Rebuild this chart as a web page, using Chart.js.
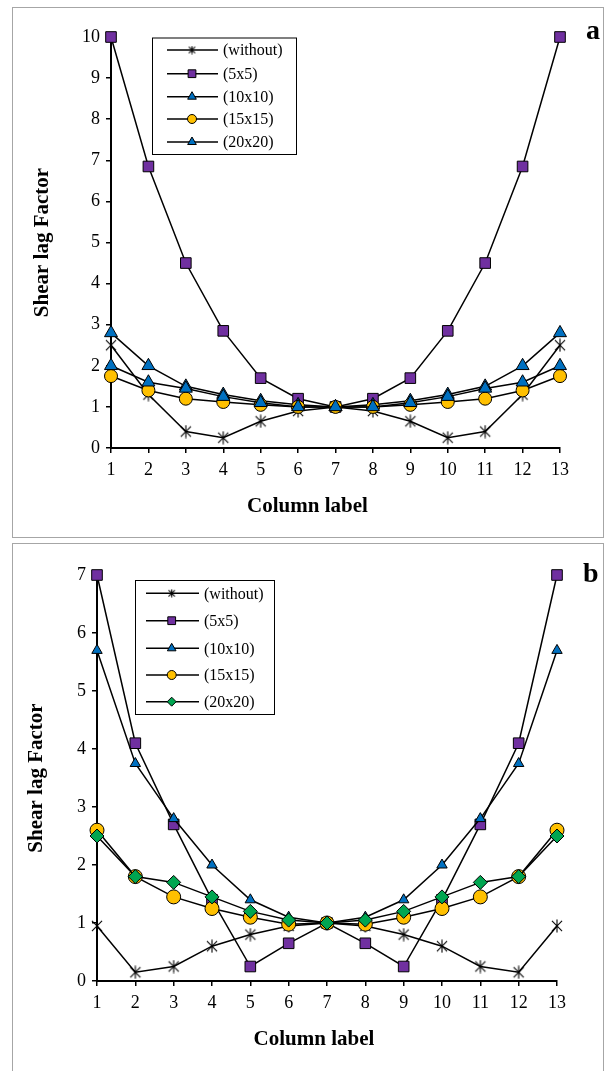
<!DOCTYPE html>
<html><head><meta charset="utf-8">
<script src="https://cdn.jsdelivr.net/npm/chart.js@4.4.1/dist/chart.umd.min.js"></script>
<style>
html,body{margin:0;padding:0;background:#fff}
body{width:612px;height:1071px;overflow:hidden;position:relative;font-family:"Liberation Serif",serif}
.frame{position:absolute;border:1px solid #a6a6a6;box-sizing:border-box}
.wrap{position:absolute;width:590px;height:528px}
</style></head><body>
<div class="frame" style="left:12px;top:7px;width:592px;height:531px"></div>
<div class="frame" style="left:12px;top:543px;width:592px;height:540px"></div>
<div class="wrap" style="left:13px;top:8px"><canvas id="ca" width="590" height="528"></canvas></div>
<div class="wrap" style="left:13px;top:544px"><canvas id="cb" width="590" height="528"></canvas></div>
<script>
// ---- data ----
const columnLabels = ['1','2','3','4','5','6','7','8','9','10','11','12','13'];
const seriesNames = ['(without)','(5x5)','(10x10)','(15x15)','(20x20)'];
const yAxisTitle = 'Shear lag Factor';
const xAxisTitle = 'Column label';

// panel a
const aWithout = [2.5,1.3,0.4,0.25,0.65,0.9,1.0,0.9,0.65,0.25,0.4,1.3,2.5];
const a5x5    = [10,6.85,4.5,2.85,1.7,1.2,1.0,1.2,1.7,2.85,4.5,6.85,10];
const a10x10  = [2.8,2.0,1.5,1.3,1.15,1.05,1.0,1.05,1.15,1.3,1.5,2.0,2.8];
const a15x15  = [1.75,1.4,1.2,1.12,1.05,1.0,1.0,1.0,1.05,1.12,1.2,1.4,1.75];
const a20x20  = [2.0,1.6,1.45,1.25,1.1,1.0,1.0,1.0,1.1,1.25,1.45,1.6,2.0];
const aYMax = 10;

// panel b
const bWithout = [0.95,0.15,0.25,0.6,0.8,0.95,1.0,0.95,0.8,0.6,0.25,0.15,0.95];
const b5x5    = [7,4.1,2.7,1.4,0.25,0.65,1.0,0.65,0.25,1.4,2.7,4.1,7];
const b10x10  = [5.7,3.75,2.8,2.0,1.4,1.1,1.0,1.1,1.4,2.0,2.8,3.75,5.7];
const b15x15  = [2.6,1.8,1.45,1.25,1.1,0.98,1.0,0.98,1.1,1.25,1.45,1.8,2.6];
const b20x20  = [2.5,1.8,1.7,1.45,1.2,1.05,1.0,1.05,1.2,1.45,1.7,1.8,2.5];
const bYMax = 7;

// ---- styles ----
const PURPLE='#7030A0', BLUE='#0070C0', YELLOW='#FFC000', GREEN='#00A651';
const FONT='"Liberation Serif", "Times New Roman", serif';

function asterisk(size){
  const c=document.createElement('canvas'); c.width=c.height=size;
  const g=c.getContext('2d'); g.strokeStyle='#000'; g.lineWidth=1.1;
  const m=size/2, r=size/2-0.5, d=r*0.78;
  g.beginPath();
  g.moveTo(m-d,m-d); g.lineTo(m+d,m+d);
  g.moveTo(m+d,m-d); g.lineTo(m-d,m+d);
  g.moveTo(m,m-r); g.lineTo(m,m+r);
  g.stroke();
  return c;
}

function drawMarker(ctx, style, x, y, r, fill){
  ctx.save();
  if (style instanceof HTMLCanvasElement){ ctx.drawImage(style, x-style.width/2, y-style.height/2); ctx.restore(); return; }
  ctx.fillStyle=fill; ctx.strokeStyle='#000'; ctx.lineWidth=1; ctx.beginPath();
  if(style==='rect'){const s=r*Math.SQRT1_2; ctx.rect(x-s,y-s,2*s,2*s);}
  else if(style==='triangle'){ctx.moveTo(x,y-r); ctx.lineTo(x+r*0.866,y+r*0.5); ctx.lineTo(x-r*0.866,y+r*0.5); ctx.closePath();}
  else if(style==='circle'){ctx.arc(x,y,r,0,Math.PI*2);}
  else if(style==='rectRot'){ctx.moveTo(x-r,y); ctx.lineTo(x,y-r); ctx.lineTo(x+r,y); ctx.lineTo(x,y+r); ctx.closePath();}
  ctx.fill(); ctx.stroke(); ctx.restore();
}

const decoPlugin = {
  id:'deco',
  afterDraw(chart, args, o){
    const ctx=chart.ctx;
    ctx.save();
    ctx.fillStyle='#000'; ctx.font='bold 21px '+FONT; ctx.textAlign='center'; ctx.textBaseline='middle';
    ctx.fillText(o.xTitle, o.xTitleX, o.xTitleY);
    ctx.font='bold 28px '+FONT;
    ctx.fillText(o.letter, o.letterX, o.letterY);
    const L=o.legend;
    ctx.fillStyle='#fff'; ctx.fillRect(L.x,L.y,L.w,L.h);
    ctx.strokeStyle='#000'; ctx.lineWidth=1; ctx.strokeRect(L.x+0.5,L.y+0.5,L.w,L.h);
    ctx.font='16px '+FONT; ctx.textAlign='left';
    chart.data.datasets.forEach((ds,i)=>{
      const y=L.rows[i];
      ctx.strokeStyle='#000'; ctx.lineWidth=1.5;
      ctx.beginPath(); ctx.moveTo(L.x1,y); ctx.lineTo(L.x2,y); ctx.stroke();
      drawMarker(ctx, ds.legendStyle || ds.pointStyle, L.mx, y, ds.legendRadius, ds.pointBackgroundColor);
      ctx.fillStyle='#000';
      ctx.fillText(ds.label, L.tx, y+1);
    });
    ctx.restore();
  }
};

function makeChart(id, values, styles, yMax, geo, deco){
  const datasets = values.map((v,i)=>({
    label: seriesNames[i],
    data: v,
    borderColor:'#000',
    borderWidth:1.5,
    pointStyle: styles[i].style,
    legendStyle: styles[i].legendStyle,
    legendRadius: styles[i].lr,
    pointRadius: styles[i].r,
    pointBackgroundColor: styles[i].fill,
    pointBorderColor:'#000',
    pointBorderWidth:1,
    tension:0,
    clip:false,
    order: values.length-1-i
  }));
  return new Chart(document.getElementById(id), {
    type:'line',
    data:{labels:columnLabels, datasets},
    options:{
      responsive:false, animation:false, devicePixelRatio:1,
      layout:{padding:{top:geo.T,right:geo.R,left:0,bottom:0}},
      plugins:{legend:{display:false}, tooltip:{enabled:false}, deco},
      scales:{
        x:{
          type:'category', offset:false,
          grid:{display:true, drawOnChartArea:false, offset:false, tickLength:5, color:'#000', lineWidth:1.5},
          border:{display:true, color:'#000', width:2},
          ticks:{color:'#000', font:{family:FONT, size:18}, padding:6, maxRotation:0, autoSkip:false},
          afterFit(s){ s.height = geo.H; }
        },
        y:{
          min:0, max:yMax,
          grid:{display:true, drawOnChartArea:false, tickLength:5, color:'#000', lineWidth:1.5},
          border:{display:true, color:'#000', width:2},
          ticks:{stepSize:1, color:'#000', font:{family:FONT, size:18}, padding:6},
          title:{display:true, text:yAxisTitle, color:'#000', font:{family:FONT, size:21, weight:'bold'}, padding:{top:geo.yTitlePad, bottom:0}},
          afterFit(s){ s.width = geo.W; }
        }
      }
    },
    plugins:[decoPlugin]
  });
}

const starBig = asterisk(14), starSmall = asterisk(9);

makeChart('ca', [aWithout,a5x5,a10x10,a15x15,a20x20], [
  {style:starBig, legendStyle:starSmall, r:7, lr:4, fill:'#000'},
  {style:'rect', r:7.5, lr:5.5, fill:PURPLE},
  {style:'triangle', r:7.5, lr:5, fill:BLUE},
  {style:'circle', r:6.5, lr:4.5, fill:YELLOW},
  {style:'triangle', r:7.5, lr:5, fill:BLUE}
], aYMax, {W:98, T:29, R:43, H:88, yTitlePad:17}, {
  xTitle:xAxisTitle, xTitleX:294.5, xTitleY:498.7, letter:'a', letterX:580, letterY:24,
  legend:{x:139, y:29.5, w:144, h:116.5, rows:[42,65.7,88.7,111,134], x1:154, x2:205, mx:179, tx:210}
});

makeChart('cb', [bWithout,b5x5,b10x10,b15x15,b20x20], [
  {style:starBig, legendStyle:starSmall, r:7, lr:4, fill:'#000'},
  {style:'rect', r:7.5, lr:5.5, fill:PURPLE},
  {style:'triangle', r:6, lr:5, fill:BLUE},
  {style:'circle', r:7, lr:4.5, fill:YELLOW},
  {style:'rectRot', r:7, lr:4.5, fill:GREEN}
], bYMax, {W:84, T:31, R:46, H:91, yTitlePad:11}, {
  xTitle:xAxisTitle, xTitleX:301, xTitleY:496, letter:'b', letterX:577.7, letterY:31,
  legend:{x:122, y:36, w:139, h:134, rows:[49.3,76.7,104.3,131,157.7], x1:133, x2:186, mx:158.7, tx:191}
});
</script>
</body></html>
